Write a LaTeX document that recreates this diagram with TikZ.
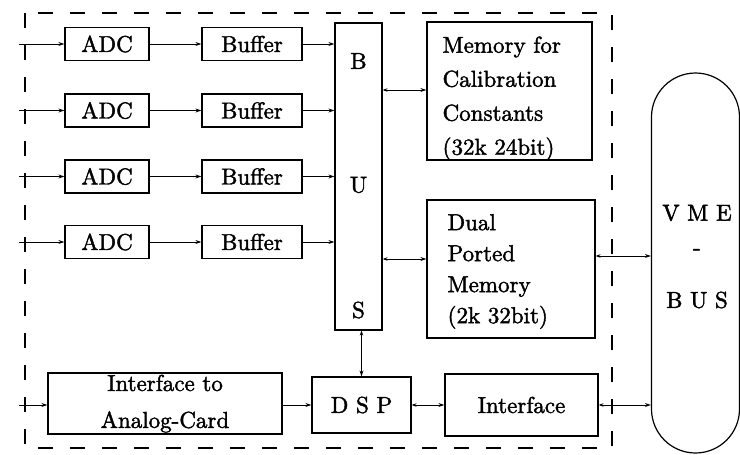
\documentclass[tikz,border=0pt]{standalone}
\usetikzlibrary{arrows.meta}
% Computer Modern style design size 10, set large and slightly heavier
\font\boardrm="[lmroman10-regular]:embolden=1.8" at 23pt
\begin{document}
\begin{tikzpicture}[x=1pt,y=-1pt,
  line width=1.2pt,
  every node/.style={font=\boardrm, inner sep=0pt},
  blk/.style={draw, rectangle, line width=1.2pt},
  con/.style={line width=0.9pt},
  tip/.style={con, -{Stealth[length=6pt,width=4pt]}},
  dtip/.style={con, {Stealth[length=5pt,width=3.5pt]}-{Stealth[length=6pt,width=4pt]}},
  frame/.style={draw, dash pattern=on 15pt off 17pt, line width=1.1pt},
  lines/.style={align=left, font={\boardrm\baselineskip=#1pt\relax}}
]
\useasboundingbox (0,0) rectangle (740,455);

% dashed board outline
\draw[frame] (25,13) rectangle (612,448);

% input channels
\foreach \i/\y in {1/44,2/110.5,3/176.5,4/242}{
  \node[blk, minimum width=84pt, minimum height=33pt] (adc\i) at (107,\y) {ADC};
  \node[blk, minimum width=100pt, minimum height=33pt] (buf\i) at (252,\y) {Buffer};
  \coordinate (in\i) at (19,\y);
}

% internal bus
\node[blk, minimum width=47pt, minimum height=307pt] (bus) at (358.5,176.5) {};
\node (bB) at (358.5,61) {B};
\node (bU) at (358.5,185) {U};
\node (bS) at (358.5,310) {S};

% memories
\node[blk, minimum width=165pt, minimum height=138pt] (mem) at (509.5,91) {};
\node[anchor=west, lines=34] (memtxt) at (442,98.5)
  {Memory for\\Calibration\\Constants\\(32k 24bit)};
\node[blk, minimum width=168pt, minimum height=138pt] (dpm) at (511,269) {};
\node[anchor=west, lines=31] (dpmtxt) at (447,271.5)
  {Dual\\Ported\\Memory\\(2k 32bit)};

% VME bus
\node[draw, rectangle, rounded corners=44pt, minimum width=88pt, minimum height=380pt, line width=1.2pt]
  (vme) at (695.5,263) {};
\node (vV) at (697,213) {V M E};
\node (vD) at (697,252) {-};
\node (vB) at (697,300) {B U S};

% lower row
\node[blk, minimum width=234pt, minimum height=61pt] (iac) at (165,403.5) {};
\node (iac1) at (165,383) {Interface to};
\node (iac2) at (165,422) {Analog-Card};
\coordinate (in5) at (19,405);
\node[blk, minimum width=99pt, minimum height=56pt] (dsp) at (361.5,405) {D S P};
\node[blk, minimum width=153pt, minimum height=62pt] (ifc) at (521.5,405) {Interface};

% connections
\foreach \i in {1,2,3,4}{
  \draw[tip] (in\i) -- (adc\i.west);
  \draw[tip] (adc\i) -- (buf\i);
  \draw[tip] (buf\i.east) -- (buf\i.east -| bus.west);
}
\draw[dtip] (bus.east |- 0,90) -- (mem.west |- 0,90);
\draw[dtip] (bus.east |- 0,259) -- (dpm.west |- 0,259);
\draw[dtip] (dpm.east |- 0,256) -- (vme.west |- 0,256);
\draw[dtip] (bus.south -| dsp.north) -- (dsp.north);
\draw[tip] (in5) -- (iac.west |- in5);
\draw[tip] (iac.east |- dsp.west) -- (dsp.west);
\draw[dtip] (dsp.east) -- (ifc.west);
\draw[dtip] (ifc.east) -- (ifc.east -| vme.west);
\end{tikzpicture}
\end{document}
